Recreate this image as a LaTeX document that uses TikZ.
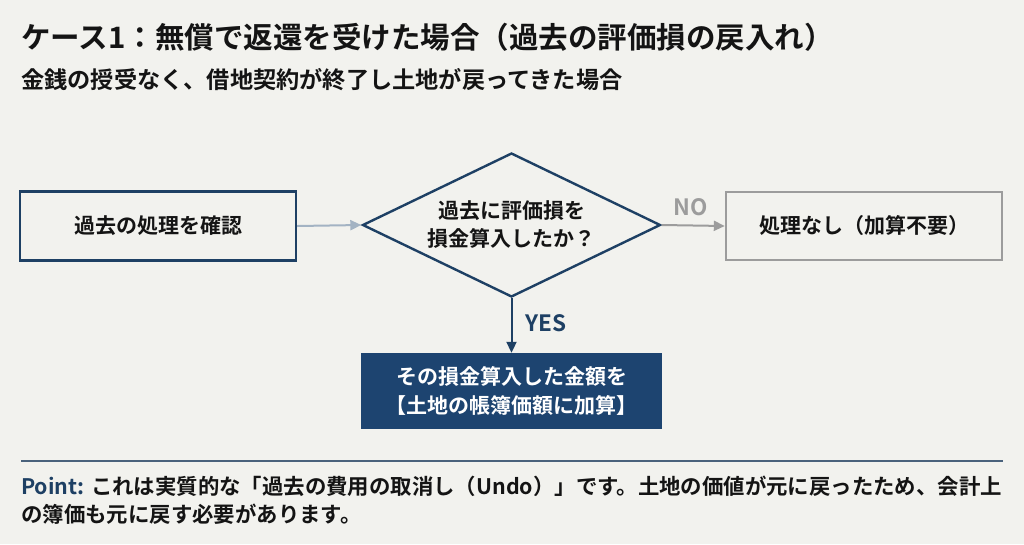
\documentclass[tikz,border=0pt]{standalone}
\usepackage{fontspec}
\setmainfont{Noto Sans CJK JP}[BoldFont={Noto Sans CJK JP Bold}]
\usetikzlibrary{shapes.geometric,arrows.meta}
\definecolor{bgc}{HTML}{F2F2EE}
\definecolor{navy}{HTML}{1E4064}
\definecolor{navyfill}{HTML}{1D4470}
\definecolor{lightarr}{HTML}{A3B3C3}
\definecolor{grayc}{HTML}{9C9C9C}
\definecolor{rulec}{HTML}{4A627C}
\definecolor{txt}{HTML}{141414}
\tikzset{
  bx/.style={draw, line width=2.4pt, fill=bgc, inner sep=0pt, font=\fontsize{21}{26}\selectfont\bfseries, text=txt},
  lbl/.style={font=\fontsize{22.5}{26}\selectfont\bfseries},
  arr/.style={line width=2pt, -{Triangle[length=11pt,width=10pt]}}
}
\begin{document}
\begin{tikzpicture}[x=1pt,y=-1pt]
\fill[bgc] (0,0) rectangle (1024,544);
\useasboundingbox (0,0) rectangle (1024,544);
\node[anchor=base west, font=\fontsize{29.5}{34}\selectfont\bfseries, text=txt, inner sep=0pt] (title) at (21,48) {ケース1：無償で返還を受けた場合（過去の評価損の戻入れ）};
\node[anchor=base west, font=\fontsize{23.2}{28}\selectfont\bfseries, text=txt, inner sep=0pt] (sub) at (21,88) {金銭の授受なく、借地契約が終了し土地が戻ってきた場合};
\node[bx, draw=navy, minimum width=276pt, minimum height=69pt] (a) at (158,226) {過去の処理を確認};
\node[bx, draw=navy, diamond, shape aspect=2.07, minimum width=298pt, minimum height=144pt, align=center, font=\fontsize{21}{28}\selectfont\bfseries] (d) at (511.5,225) {過去に評価損を\\損金算入したか？};
\node[bx, draw=grayc, minimum width=276pt, minimum height=68pt] (n) at (864,226) {処理なし（加算不要）};
\node[bx, draw=navyfill, fill=navyfill, text=white, minimum width=298pt, minimum height=74pt, align=center, font=\fontsize{21}{29}\selectfont\bfseries] (y) at (511.5,391) {その損金算入した金額を\\【土地の帳簿価額に加算】};
\draw[arr, draw=lightarr, fill=lightarr] (a.east) -- (d.west);
\draw[arr, draw=grayc, fill=grayc] (d.east) -- (n.west);
\draw[arr, draw=navy, fill=navy] (d.south) -- (y.north);
\node[lbl, text=grayc] (nolbl) at (691,207) {NO};
\node[lbl, text=navy] (yeslbl) at (546,323) {YES};
\coordinate (r1) at (21,461);
\coordinate (r2) at (1003,461);
\draw[rulec, line width=1.8pt] (r1) -- (r2);
\node[anchor=base west, inner sep=0pt, font=\fontsize{21.4}{26}\selectfont\bfseries, text=txt] (p1) at (21,494) {\textcolor{navy}{Point:} これは実質的な「過去の費用の取消し（Undo）」です。土地の価値が元に戻ったため、会計上};
\node[anchor=base west, inner sep=0pt, font=\fontsize{21.4}{26}\selectfont\bfseries, text=txt] (p2) at (21,522) {の簿価も元に戻す必要があります。};
\end{tikzpicture}
\end{document}
